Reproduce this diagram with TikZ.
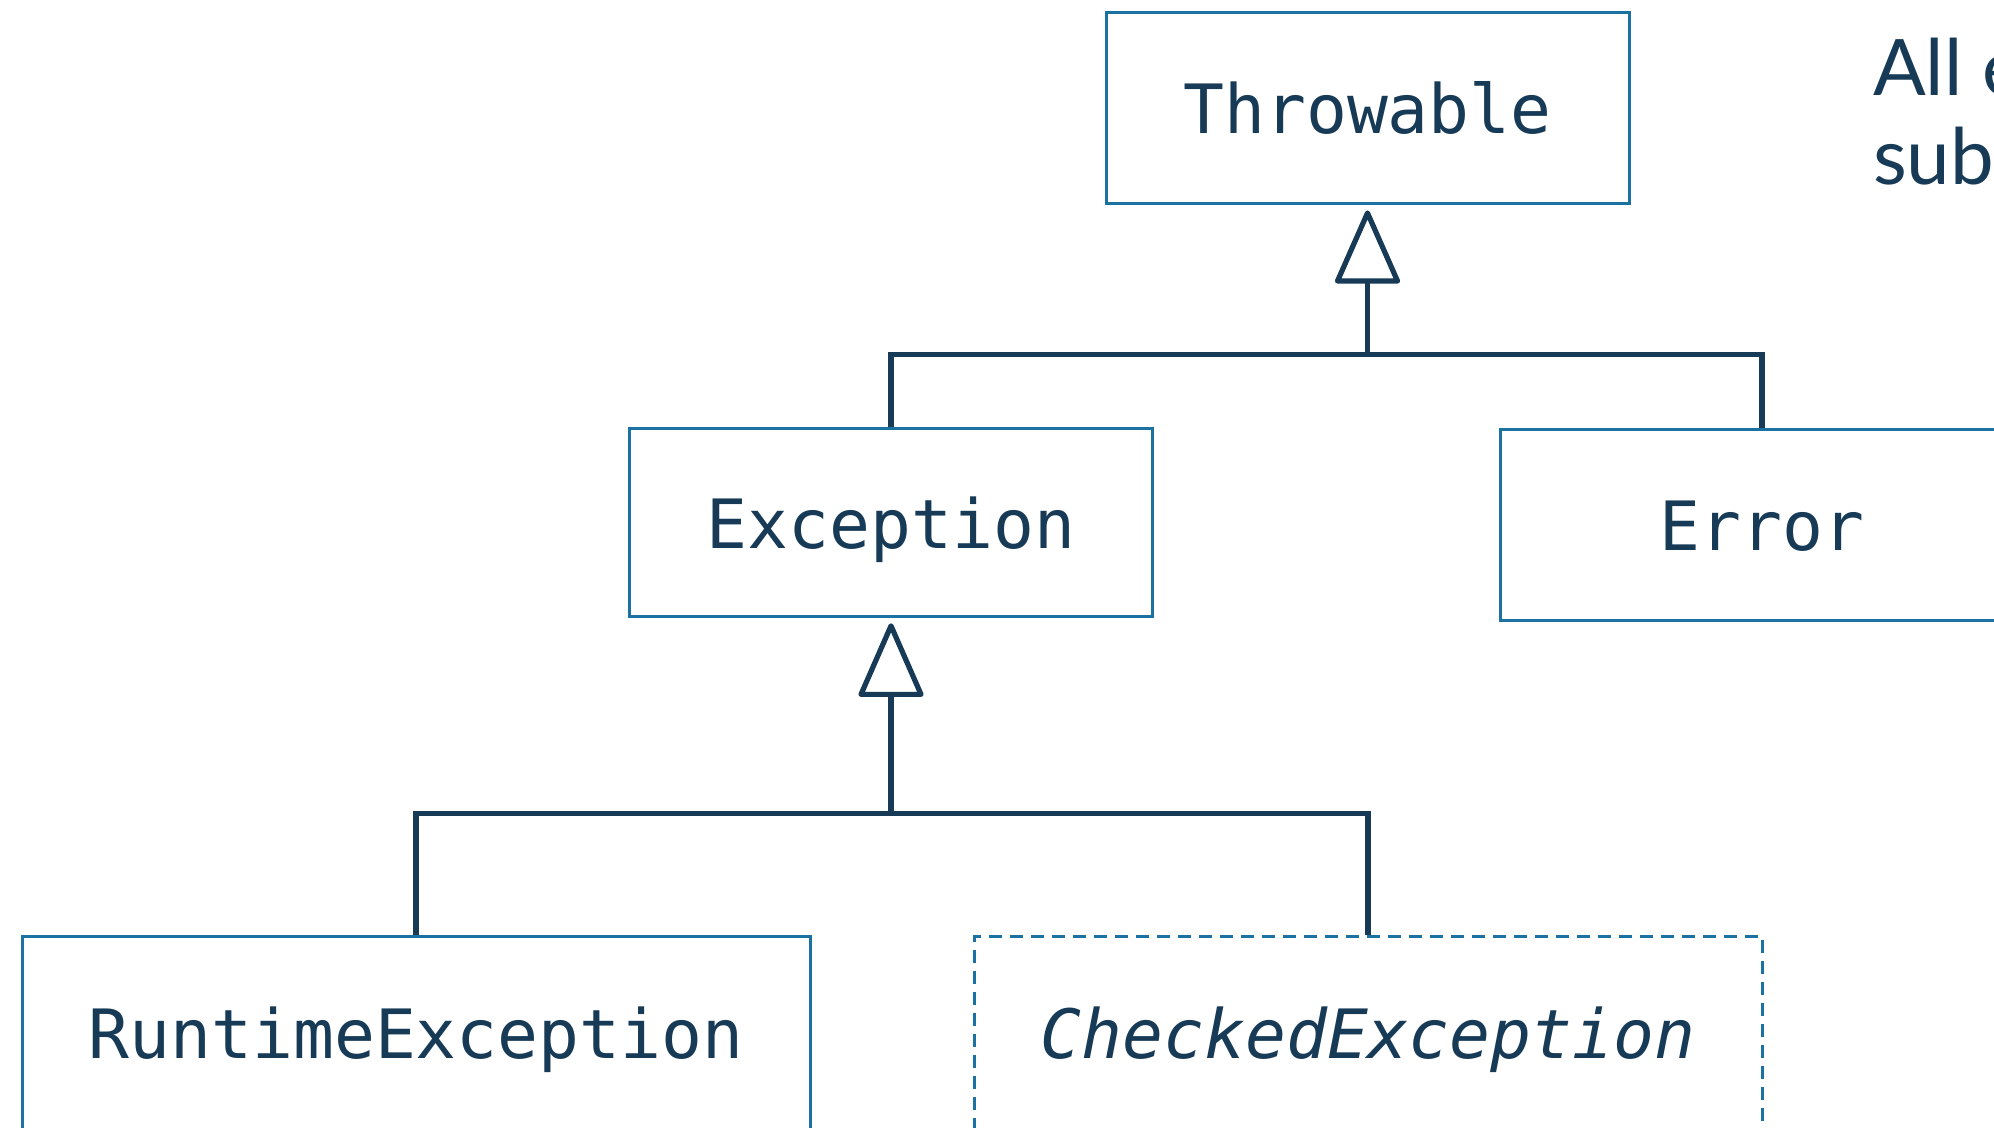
\documentclass[tikz,border=0pt]{standalone}
\usepackage{fontspec}
\setmonofont{DejaVu Sans Mono}
\newfontfamily\latofont{Lato}
\usetikzlibrary{calc}
\definecolor{ink}{HTML}{173A56}
\definecolor{frame}{HTML}{1B72A2}

\begin{document}
\begin{tikzpicture}[x=1pt,y=-1pt,
  classbox/.style={draw=frame, line width=3pt, inner sep=0pt, text=ink,
    font=\ttfamily\fontsize{68}{80}\selectfont,
    text height=52.6pt, text depth=0pt, minimum height=191pt},
  narrowbox/.style={classbox, minimum width=523pt},
  widebox/.style={classbox, minimum width=788pt, minimum height=195pt,
    text height=49pt},
  abstractbox/.style={widebox, dash pattern=on 13pt off 8pt,
    font=\ttfamily\itshape\fontsize{68}{80}\selectfont},
  conn/.style={draw=ink, line width=5.2pt},
  head/.style={conn, fill=white, line join=round},
  note/.style={inner sep=0pt, anchor=base west, text=ink,
    font=\latofont\fontsize{78}{89}\selectfont},
]
\useasboundingbox (0,0) rectangle (1994,1127);
\clip (0,0) rectangle (1994,1127);

% class boxes
\node[narrowbox] (throwable) at (1367.5,107.5) {Throwable};
\node[narrowbox, minimum height=188.5pt] (exception) at (891,522.5) {Exception};
\node[narrowbox] (error) at (1762,524.5) {Error};
\node[widebox] (runtime) at (416,1033.5) {RuntimeException};
\node[abstractbox] (checked) at (1368,1033.5) {CheckedException};

% side note
\node[note] (noteA) at (1873,95) {All e};
\node[note] (noteB) at (1873,184) {subc};

% inheritance from Throwable
\coordinate (tip1) at ($(throwable.south)+(0,8.5)$);
\coordinate (base1) at ($(tip1)+(0,68)$);
\coordinate (bus1) at ($(throwable.south)+(0,150)$);
\draw[conn] (exception.north) |- (bus1) -| (error.north);
\draw[conn] (bus1) -- (base1);
\draw[head] (tip1) -- ($(base1)+(-30,0)$) -- ($(base1)+(30,0)$) -- cycle;

% inheritance from Exception
\coordinate (tip2) at ($(exception.south)+(0,7.6)$);
\coordinate (base2) at ($(tip2)+(0,68.5)$);
\coordinate (bus2) at ($(exception.south)+(0,195.5)$);
\draw[conn] (runtime.north) |- (bus2) -| (checked.north);
\draw[conn] (bus2) -- (base2);
\draw[head] (tip2) -- ($(base2)+(-30,0)$) -- ($(base2)+(30,0)$) -- cycle;
\end{tikzpicture}
\end{document}
